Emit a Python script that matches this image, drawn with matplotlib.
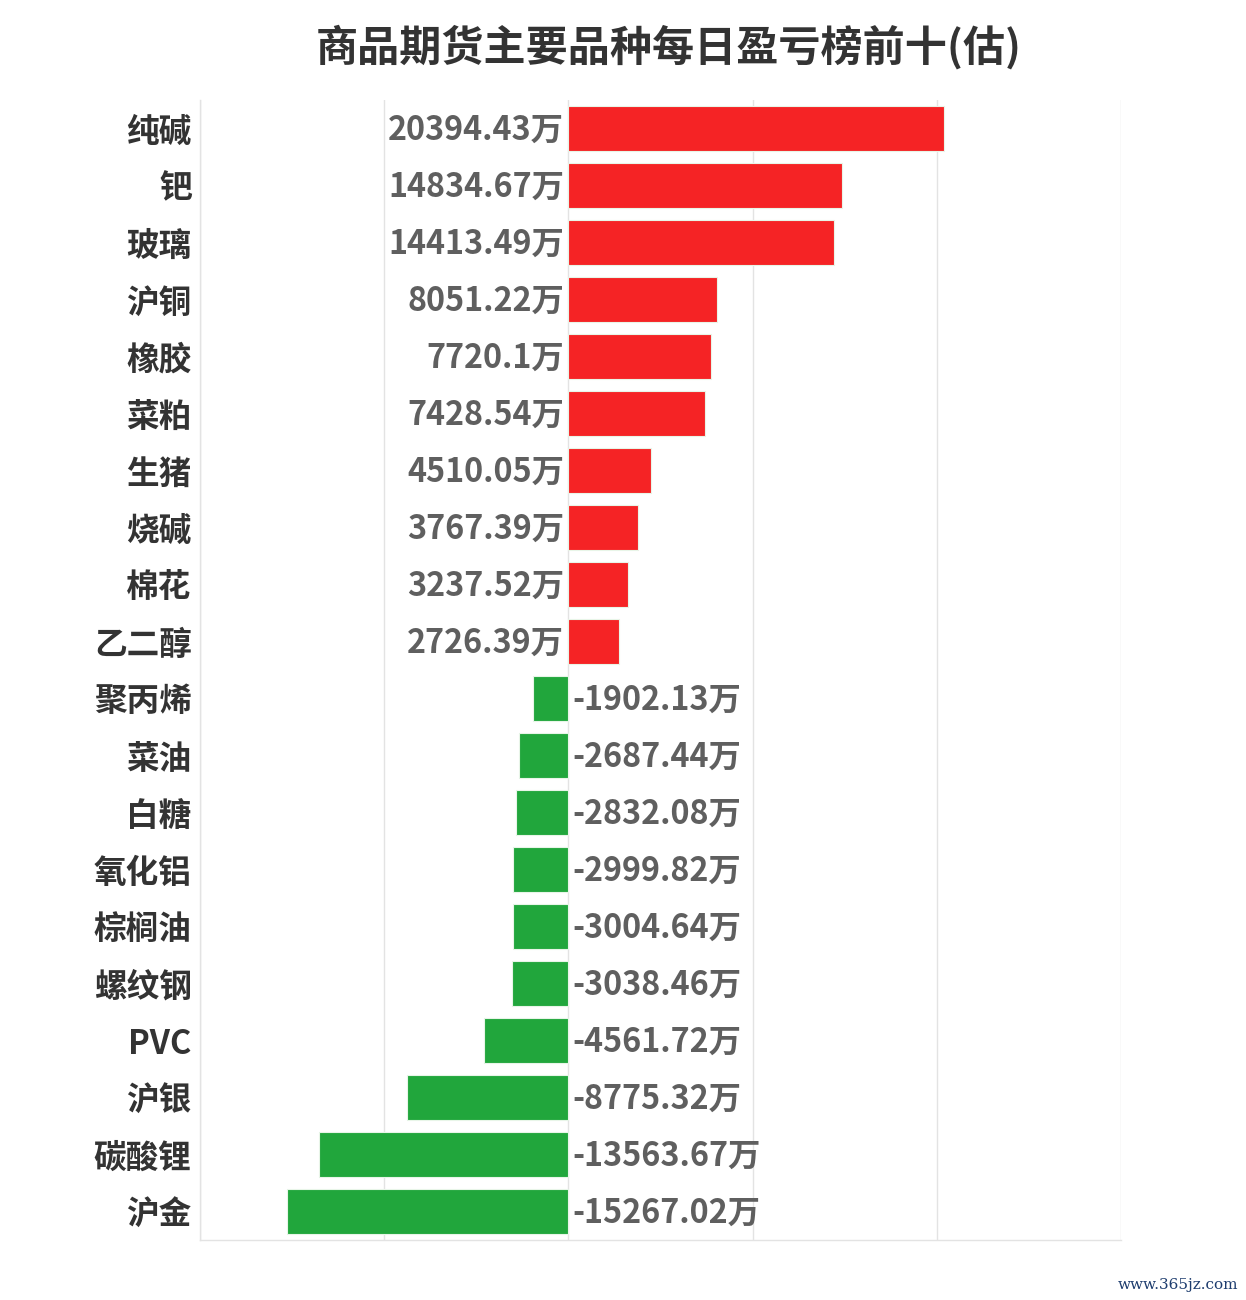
import matplotlib
matplotlib.use("Agg")
import matplotlib.pyplot as plt

plt.rcParams['font.family'] = ['Noto Sans CJK SC', 'DejaVu Sans']

categories = ["纯碱", "钯", "玻璃", "沪铜", "橡胶", "菜粕", "生猪", "烧碱", "棉花", "乙二醇",
              "聚丙烯", "菜油", "白糖", "氧化铝", "棕榈油", "螺纹钢", "PVC", "沪银", "碳酸锂", "沪金"]
values = [20394.43, 14834.67, 14413.49, 8051.22, 7720.1, 7428.54, 4510.05, 3767.39, 3237.52, 2726.39,
          -1902.13, -2687.44, -2832.08, -2999.82, -3004.64, -3038.46, -4561.72, -8775.32, -13563.67, -15267.02]
labels = ["20394.43万", "14834.67万", "14413.49万", "8051.22万", "7720.1万", "7428.54万", "4510.05万",
          "3767.39万", "3237.52万", "2726.39万", "-1902.13万", "-2687.44万", "-2832.08万", "-2999.82万",
          "-3004.64万", "-3038.46万", "-4561.72万", "-8775.32万", "-13563.67万", "-15267.02万"]
title = "商品期货主要品种每日盈亏榜前十(估)"

RED = "#F52325"
GREEN = "#21A63C"

fig = plt.figure(figsize=(12.46, 13.0), dpi=100)
ax = fig.add_axes([200/1246, 1 - 1240/1300, (1121-200)/1246, (1240-100)/1300])

y = list(range(len(categories)))
colors = [RED if v >= 0 else GREEN for v in values]
ax.barh(y, values, height=0.79, color=colors, edgecolor="#e8f5e8", linewidth=0.8, zorder=3)

ax.set_xlim(-20000, 30000)
ax.set_ylim(len(categories) - 0.5, -0.5)
ax.set_xticks([-20000, -10000, 0, 10000, 20000, 30000])
ax.set_xticklabels([])
ax.tick_params(axis='x', length=0)
ax.tick_params(axis='y', length=0, pad=6)
ax.set_yticks(y)
ax.set_yticklabels(categories, fontsize=23.5, fontweight='bold', color="#333333")
ax.grid(axis='x', color="#e3e3e3", linewidth=1, zorder=0)

for s in ['top', 'right']:
    ax.spines[s].set_visible(False)
for s in ['left', 'bottom']:
    ax.spines[s].set_color("#e3e3e3")
    ax.spines[s].set_linewidth(1)

for yi, v, lab in zip(y, values, labels):
    if v >= 0:
        ax.annotate(lab, (0, yi), xytext=(-3, -1.5), textcoords='offset points',
                    ha='right', va='center', fontsize=23.3, fontweight='bold', color="#5f5f5f", zorder=4)
    else:
        ax.annotate(lab, (0, yi), xytext=(3, -1.5), textcoords='offset points',
                    ha='left', va='center', fontsize=23.3, fontweight='bold', color="#5f5f5f", zorder=4)

fig.text(669/1246, 1 - 47/1300, title, ha='center', va='center', fontsize=30.3,
         fontweight='bold', color="#333333")
fig.text(1238/1246, 1 - 1285/1300, "www.365jz.com", ha='right', va='center', fontsize=11,
         family='DejaVu Serif', color="#1d3c6e")

fig.savefig("out.png", dpi=100, facecolor="white")
